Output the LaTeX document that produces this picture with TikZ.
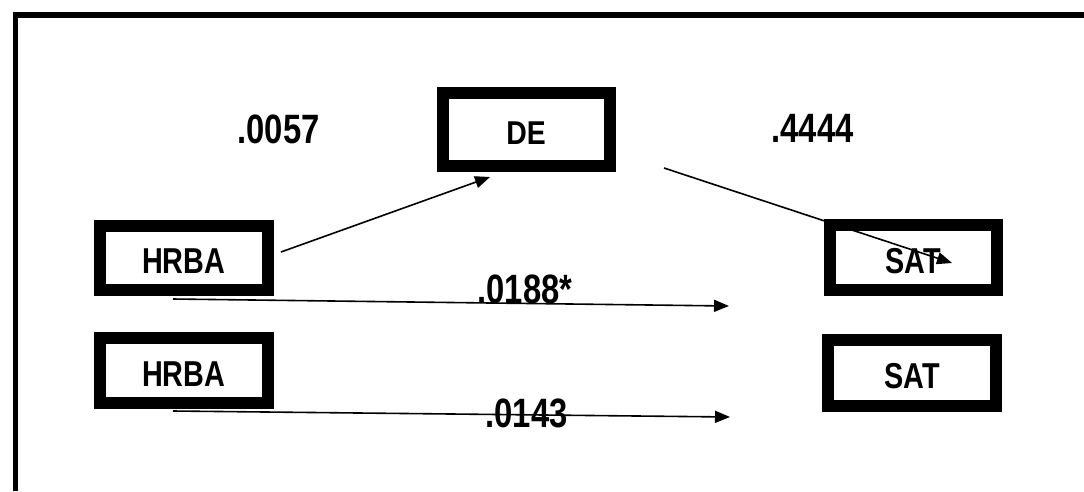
\documentclass[tikz,border=0pt]{standalone}
\usepackage{fontspec}
\setmainfont{Liberation Sans}
\usepackage{graphicx}
\usetikzlibrary{arrows.meta}
\begin{document}
\begin{tikzpicture}[x=1pt,y=-1pt,
  varbox/.style={draw=black,line width=12pt,inner sep=0pt,fill=white,
    text height=31pt,text depth=0pt,
    font=\fontsize{36}{36}\selectfont\bfseries},
  coef/.style={inner sep=0pt,anchor=base,font=\fontsize{41}{41}\selectfont\bfseries},
  path/.style={line width=1.6pt,-{Triangle[length=15pt,width=12pt]}}]
\useasboundingbox (0,0) rectangle (1084,491);
% outer frame (top and left edges visible)
\draw[line width=5.5pt] (15.7,491) -- (15.7,15) -- (1084,15);
% boxes
\node[varbox,minimum width=167.5pt,minimum height=63.5pt] (hrba1) at (183.75,257.75) {\scalebox{0.8}[1]{HRBA}};
\node[varbox,minimum width=167.5pt,minimum height=65pt] (hrba2) at (183.75,370.5) {\scalebox{0.8}[1]{HRBA}};
\node[varbox,minimum width=167pt,minimum height=73pt,text height=30pt,font=\fontsize{33}{33}\selectfont\bfseries] (de) at (526,129.5) {\scalebox{0.86}[1]{DE}};
\node[varbox,minimum width=167pt,minimum height=65pt] (sat1) at (913.5,257.5) {\scalebox{0.8}[1]{SAT}};
\node[varbox,minimum width=168pt,minimum height=66pt] (sat2) at (912,373) {\scalebox{0.8}[1]{SAT}};
% coefficients
\node[coef] (c1) at (278.5,143) {\scalebox{0.8}[1]{.0057}};
\node[coef] (c2) at (812.5,142) {\scalebox{0.8}[1]{.4444}};
\node[coef] (c3) at (525,303) {\scalebox{0.8}[1]{.0188*}};
\node[coef] (c4) at (526.5,427) {\scalebox{0.8}[1]{.0143}};
% connector end points
\coordinate (a1s) at (281,252);
\coordinate (a1e) at (490,177);
\coordinate (a2s) at (664,168);
\coordinate (a2e) at (952,263);
\coordinate (a3s) at (173,299);
\coordinate (a3e) at (729,306);
\coordinate (a4s) at (173,411);
\coordinate (a4e) at (730,417);
\draw[path] (a1s) -- (a1e);
\draw[path] (a2s) -- (a2e);
\draw[path] (a3s) -- (a3e);
\draw[path] (a4s) -- (a4e);
\end{tikzpicture}
\end{document}
